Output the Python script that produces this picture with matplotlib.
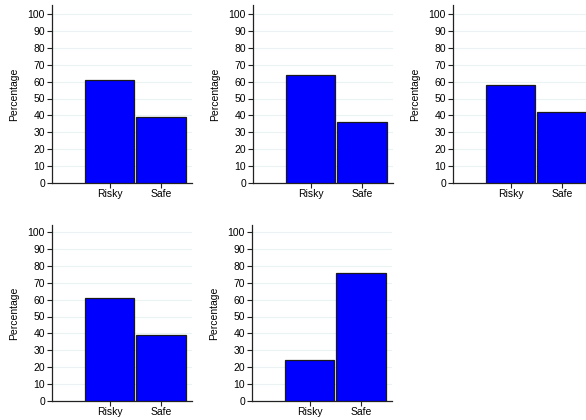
import matplotlib.pyplot as plt

categories = ["Risky", "Safe"]
panel_values = [
    [61, 39],
    [64, 36],
    [58, 42],
    [61, 39],
    [24, 76],
]
y_ticks = list(range(0, 101, 10))

plt.rcParams['font.family'] = ['Liberation Sans', 'DejaVu Sans']

fig = plt.figure(figsize=(5.86, 4.2), dpi=100)

# axes rectangles in pixels: (left, zero line from top, ymax)
W, H = 586, 420
panel_px = [
    (52, 183, 105.3),
    (253, 183, 105.3),
    (453, 183, 105.3),
    (52, 401, 104.2),
    (252, 401, 104.2),
]

for vals, (left, y0, ytop) in zip(panel_values, panel_px):
    px_per_unit = 169 / 100
    height_px = ytop * px_per_unit
    ax = fig.add_axes([left / W, (H - y0) / H, 140 / W, height_px / H])
    x = [1, 2]
    ax.bar(x, vals, width=0.96, color="#0000ff", edgecolor="#1a1a1a", linewidth=0.9, zorder=3)
    ax.set_xlim(-0.117, 2.6)
    ax.set_ylim(0, ytop)
    ax.set_yticks(y_ticks)
    ax.set_xticks(x)
    ax.set_xticklabels(categories)
    ax.yaxis.grid(True, color="#eaf2f3", linewidth=0.8, zorder=0)
    ax.set_axisbelow(True)
    ax.spines['top'].set_visible(False)
    ax.spines['right'].set_visible(False)
    for s in ('left', 'bottom'):
        ax.spines[s].set_color("#222222")
        ax.spines[s].set_linewidth(0.9)
    ax.tick_params(axis='both', labelsize=7.5, length=3.5, width=0.8, color="#222222", pad=1.5)
    ax.tick_params(axis='x', pad=1)
    ax.set_ylabel("Percentage", fontsize=7.5, labelpad=6)

fig.savefig("out.png", dpi=100)
